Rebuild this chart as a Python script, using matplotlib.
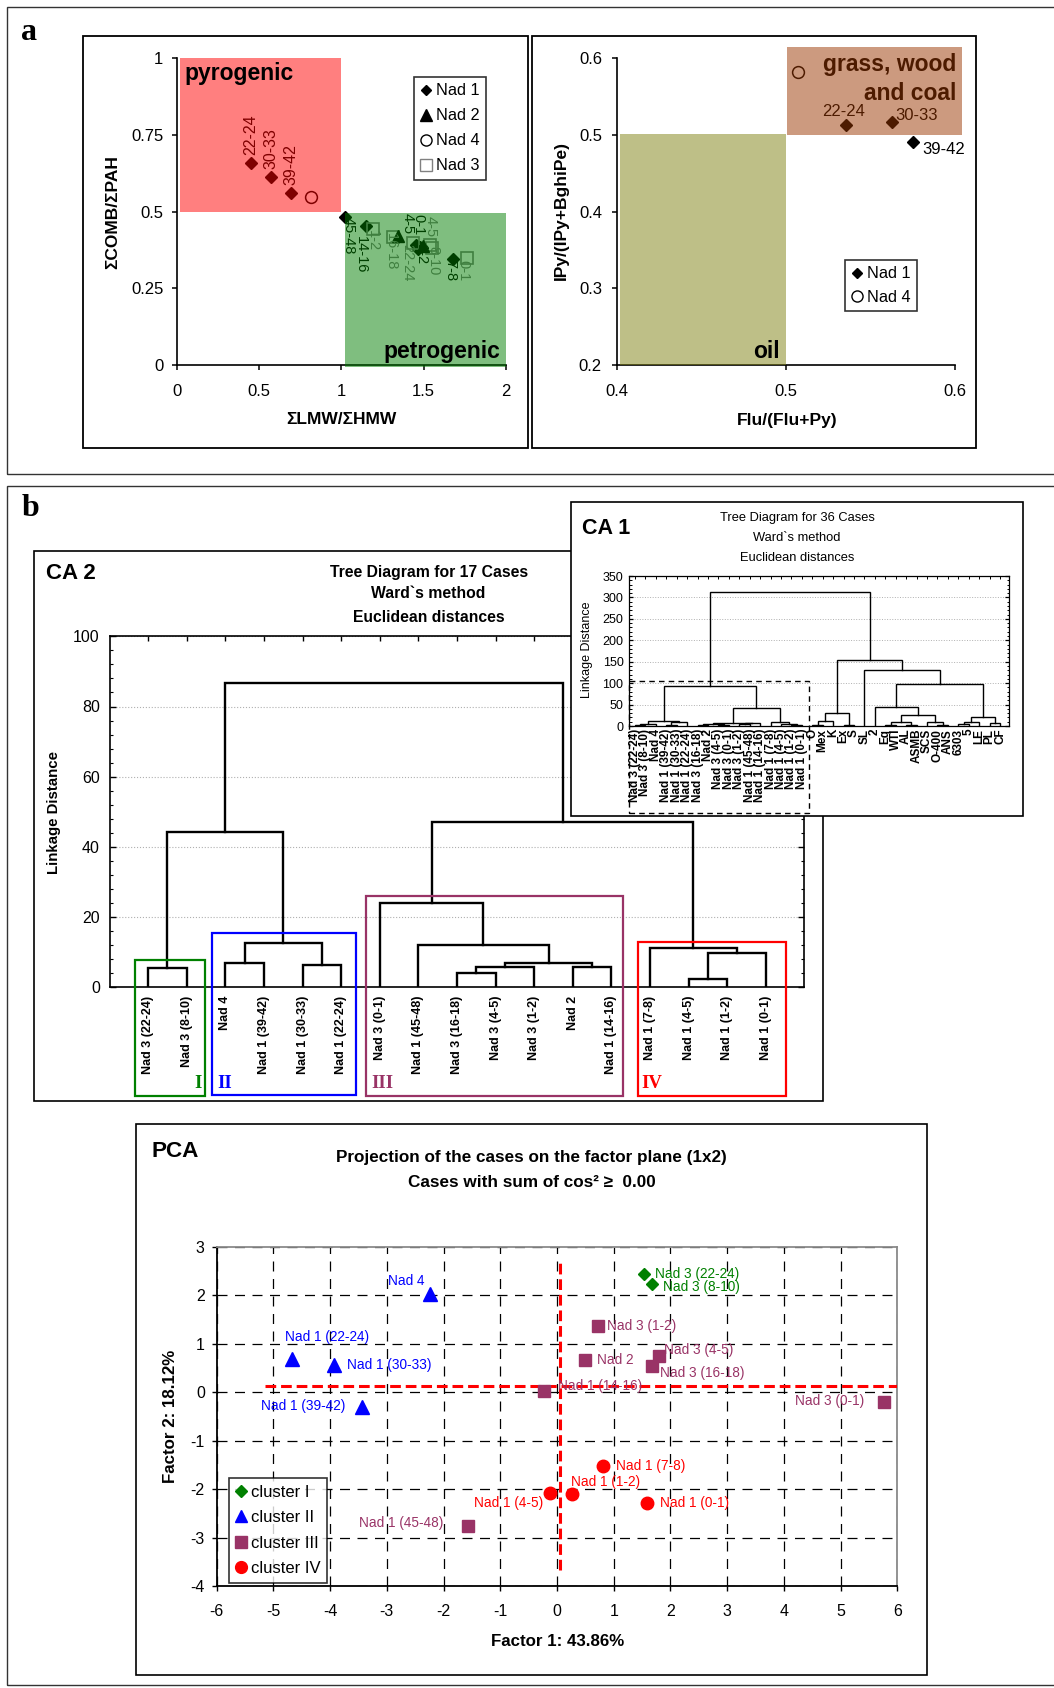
import matplotlib
matplotlib.use('Agg')
import matplotlib.pyplot as plt
from matplotlib.patches import Rectangle
from matplotlib.lines import Line2D
from matplotlib.ticker import MultipleLocator

plt.rcParams['font.family'] = ['Liberation Sans', 'DejaVu Sans']
plt.rcParams['axes.unicode_minus'] = False

# ======================= DATA =======================
# ---- Panel a (left): sum LMW/HMW vs sum COMB/PAH ----
nad1_lbl = ['22-24', '30-33', '39-42', '45-48', '14-16', '4-5', '0-1', '1-2', '7-8']
nad1_lmw = [0.451, 0.573, 0.696, 1.02, 1.15, 1.455, 1.475, 1.465, 1.68]
nad1_comb = [0.660, 0.612, 0.562, 0.484, 0.452, 0.392, 0.385, 0.378, 0.347]
nad2_lmw = [1.346, 1.495]
nad2_comb = [0.421, 0.388]
nad4_lmw = [0.814]
nad4_comb = [0.549]
nad3_lbl = ['1-2', '16-18', '22-24', '4-5', '8-10', '0-1']
nad3_lmw = [1.194, 1.314, 1.437, 1.538, 1.55, 1.761]
nad3_comb = [0.443, 0.417, 0.397, 0.39, 0.38, 0.35]
pyro_x, pyro_y = (0.02, 1.0), (0.5, 1.0)
petro_x, petro_y = (1.02, 2.0), (-0.005, 0.495)

# ---- Panel a (right): Flu/(Flu+Py) vs IPy/(IPy+BghiPe) ----
r_nad1_lbl = ['22-24', '30-33', '39-42']
r_nad1_flu = [0.5354, 0.563, 0.5754]
r_nad1_ipy = [0.5126, 0.5165, 0.4909]
r_nad4_flu = [0.5074]
r_nad4_ipy = [0.5826]
oil_x, oil_y = (0.402, 0.5), (0.2, 0.501)
gwc_x, gwc_y = (0.5005, 0.604), (0.5, 0.615)

# ---- CA 2 dendrogram (17 cases) ----
ca2_leaves = ['Nad 3 (22-24)', 'Nad 3 (8-10)', 'Nad 4', 'Nad 1 (39-42)', 'Nad 1 (30-33)',
              'Nad 1 (22-24)', 'Nad 3 (0-1)', 'Nad 1 (45-48)', 'Nad 3 (16-18)', 'Nad 3 (4-5)',
              'Nad 3 (1-2)', 'Nad 2', 'Nad 1 (14-16)', 'Nad 1 (7-8)', 'Nad 1 (4-5)',
              'Nad 1 (1-2)', 'Nad 1 (0-1)']
# (node a, node b, linkage distance); new nodes numbered from 17
ca2_merges = [(0, 1, 5.6), (2, 3, 6.9), (4, 5, 6.4), (18, 19, 12.5), (17, 20, 44.2),
              (8, 9, 4.0), (22, 10, 5.7), (11, 12, 5.9), (23, 24, 7.0), (7, 25, 12.0),
              (6, 26, 24.1), (14, 15, 2.3), (28, 16, 9.7), (13, 29, 11.1), (27, 30, 47.1),
              (21, 31, 86.6)]

# ---- CA 1 dendrogram (36 cases) ----
ca1_leaves = ['Nad 3 (22-24)', 'Nad 3 (8-10)', 'Nad 4', 'Nad 1 (39-42)', 'Nad 1 (30-33)',
              'Nad 1 (22-24)', 'Nad 3 (16-18)', 'Nad 2', 'Nad 3 (4-5)', 'Nad 3 (0-1)',
              'Nad 3 (1-2)', 'Nad 1 (45-48)', 'Nad 1 (14-16)', 'Nad 1 (7-8)', 'Nad 1 (4-5)',
              'Nad 1 (1-2)', 'Nad 1 (0-1)', 'O', 'Mex', 'K', 'Ex', 'S', 'SL', '2', 'Eq', 'WTI',
              'AL', 'ASMB', 'SCS', 'O-400', 'ANS', '6303', '5', 'LE', 'PL', 'CF']
ca1_merges = [(0, 1, 2.5), (36, 2, 4), (3, 4, 3), (38, 5, 9), (37, 39, 12.4),
              (6, 7, 2), (8, 9, 3), (41, 42, 5), (10, 11, 4), (44, 12, 6), (43, 45, 8),
              (15, 16, 3), (14, 47, 5), (13, 48, 10), (46, 49, 41), (40, 50, 94),
              (17, 18, 2.5), (52, 19, 12), (20, 21, 2.3), (53, 54, 31),
              (24, 25, 2.3), (26, 27, 2), (56, 57, 10), (29, 30, 2), (28, 59, 10),
              (58, 60, 25.7), (23, 61, 45), (31, 32, 4), (63, 33, 10), (34, 35, 8),
              (64, 65, 21.8), (62, 66, 97), (22, 67, 130.7), (55, 68, 154), (51, 69, 313)]

# ---- PCA factor scores ----
c1_names = ['Nad 3 (22-24)', 'Nad 3 (8-10)']
c1_f1 = [1.529, 1.673]
c1_f2 = [2.447, 2.226]
c2_names = ['Nad 4', 'Nad 1 (22-24)', 'Nad 1 (30-33)', 'Nad 1 (39-42)']
c2_f1 = [-2.24, -4.678, -3.931, -3.445]
c2_f2 = [2.027, 0.693, 0.568, -0.316]
c3_names = ['Nad 3 (1-2)', 'Nad 2', 'Nad 3 (4-5)', 'Nad 3 (16-18)', 'Nad 1 (14-16)',
            'Nad 3 (0-1)', 'Nad 1 (45-48)']
c3_f1 = [0.728, 0.486, 1.799, 1.673, -0.225, 5.766, -1.574]
c3_f2 = [1.357, 0.657, 0.738, 0.531, 0.030, -0.206, -2.770]
c4_names = ['Nad 1 (7-8)', 'Nad 1 (1-2)', 'Nad 1 (4-5)', 'Nad 1 (0-1)']
c4_f1 = [0.818, 0.261, -0.126, 1.592]
c4_f2 = [-1.517, -2.107, -2.085, -2.284]
ref_h_f2, ref_h_f1 = 0.126, (-5.15, 6.0)
ref_v_f1, ref_v_f2 = 0.045, (-3.67, 2.68)

# ======================= LAYOUT =======================
W, H = 1054, 1688
PT = 0.72  # points per pixel at dpi 100
fig = plt.figure(figsize=(W / 100, H / 100), dpi=100)
fig.patch.set_facecolor('white')


def ax_px(x0, y0, x1, y1, **kw):
    return fig.add_axes([x0 / W, 1 - y1 / H, (x1 - x0) / W, (y1 - y0) / H], **kw)


def rect_px(x0, y0, x1, y1, **kw):
    r = Rectangle((x0 / W, 1 - y1 / H), (x1 - x0) / W, (y1 - y0) / H,
                  transform=fig.transFigure, **kw)
    fig.add_artist(r)
    return r


def text_px(x, y, s, **kw):
    return fig.text(x / W, 1 - y / H, s, **kw)


def dendro(ax, n_leaves, merges, lw):
    pos = {i: (i + 1, 0.0) for i in range(n_leaves)}
    nid = n_leaves
    for a, b, h in merges:
        xa, ya = pos[a]
        xb, yb = pos[b]
        ax.plot([xa, xa, xb, xb], [ya, h, h, yb], color='k', lw=lw,
                solid_joinstyle='miter', solid_capstyle='projecting', zorder=3)
        pos[nid] = ((xa + xb) / 2, h)
        nid += 1


# outer frames
rect_px(7, 7, 1070, 474, fill=False, ec='#333333', lw=1.0)
rect_px(7, 486, 1070, 1685, fill=False, ec='#333333', lw=1.0)
rect_px(82.7, 36.5, 527.5, 447.8, fill=False, ec='k', lw=1.3)
rect_px(531.6, 36.5, 975.8, 447.8, fill=False, ec='k', lw=1.3)
rect_px(33.6, 550.6, 823, 1101, fill=False, ec='k', lw=1.2)
rect_px(136, 1123.6, 927, 1675, fill=False, ec='k', lw=1.2)
rect_px(571, 501.6, 1023, 816, fc='white', ec='k', lw=1.2, zorder=2)

text_px(28.5, 32, 'a', family='Liberation Serif', fontweight='bold', fontsize=23,
        ha='center', va='center')
text_px(30, 509, 'b', family='Liberation Serif', fontweight='bold', fontsize=23,
        ha='center', va='center')

# ---------------- Panel a left ----------------
axL = ax_px(176.7, 58.3, 506, 365)
axL.set_xlim(0, 2)
axL.set_ylim(0, 1)
for s in ('top', 'right'):
    axL.spines[s].set_visible(False)
for s in ('left', 'bottom'):
    axL.spines[s].set_linewidth(1.2)
axL.set_xticks([0, 0.5, 1, 1.5, 2])
axL.set_xticklabels(['0', '0.5', '1', '1.5', '2'])
axL.set_yticks([0, 0.25, 0.5, 0.75, 1])
axL.set_yticklabels(['0', '0.25', '0.5', '0.75', '1'])
axL.tick_params(direction='out', length=5 * PT, width=1.1, labelsize=12)
axL.tick_params(axis='x', pad=10)
axL.tick_params(axis='y', pad=6)

axL.plot(nad1_lmw, nad1_comb, 'D', color='k', ms=6.3, zorder=2, clip_on=False)
axL.plot(nad3_lmw, nad3_comb, 's', mfc='none', mec='#808080', mew=1.2, ms=9, zorder=2)
axL.plot(nad2_lmw, nad2_comb, '^', color='k', ms=8.5, zorder=2)
axL.plot(nad4_lmw, nad4_comb, 'o', mfc='none', mec='k', mew=1.1, ms=8.5, zorder=2)

green_off = {'45-48': (3.7, 0), '14-16': (-5, -10), '4-5': (-9, 32),
             '0-1': (-1.5, 33), '1-2': (3, 5), '7-8': (-2.6, -1.4)}
for lbl, x, y in zip(nad1_lbl, nad1_lmw, nad1_comb):
    if y > 0.5:
        axL.annotate(lbl, (x, y), xytext=(0, 8 * PT), textcoords='offset points',
                     rotation=90, ha='center', va='bottom', fontsize=11.5, color='k', zorder=2)
    else:
        dx, dy = green_off[lbl]
        axL.annotate(lbl, (x, y), xytext=(dx * PT, dy * PT), textcoords='offset points',
                     rotation=270, ha='center', va='top', fontsize=10.5, color='k', zorder=2)
n3_off = {'1-2': (0, -1), '16-18': (-2.4, 4.5), '22-24': (-6, -1), '4-5': (0.5, 29),
          '8-10': (1, 2), '0-1': (-3, -2)}
for lbl, x, y in zip(nad3_lbl, nad3_lmw, nad3_comb):
    dx, dy = n3_off[lbl]
    axL.annotate(lbl, (x, y), xytext=(dx * PT, dy * PT), textcoords='offset points',
                 rotation=270, ha='center', va='top', fontsize=10.5, color='#808080', zorder=2)

axL.add_patch(Rectangle((pyro_x[0], pyro_y[0]), pyro_x[1] - pyro_x[0], pyro_y[1] - pyro_y[0],
                        fc='#ff0000', alpha=0.5, lw=0, zorder=3, clip_on=False))
axL.add_patch(Rectangle((petro_x[0], petro_y[0]), petro_x[1] - petro_x[0], petro_y[1] - petro_y[0],
                        fc='#007f00', alpha=0.5, lw=0, zorder=3, clip_on=False))
axL.text(0.05, 0.949, 'pyrogenic', fontsize=16.5, fontweight='bold', ha='left', va='center', zorder=5)
axL.text(1.968, 0.023, 'petrogenic', fontsize=16.5, fontweight='bold', ha='right', va='baseline', zorder=5)

hL = [Line2D([], [], ls='none', marker='D', color='k', ms=5.5),
      Line2D([], [], ls='none', marker='^', color='k', ms=8),
      Line2D([], [], ls='none', marker='o', mfc='none', mec='k', ms=8),
      Line2D([], [], ls='none', marker='s', mfc='none', mec='#808080', ms=8)]
legL = fig.legend(hL, ['Nad 1', 'Nad 2', 'Nad 4', 'Nad 3'], loc='upper left',
                  bbox_to_anchor=(414.3 / W, 1 - 76.7 / H), bbox_transform=fig.transFigure,
                  fontsize=11.7, frameon=True, fancybox=False, edgecolor='k', borderpad=0.4,
                  labelspacing=0.62, handlelength=0.7, handletextpad=0.25, borderaxespad=0)
legL.get_frame().set_linewidth(1.2)

text_px(113, 211.7, 'ΣCOMB/ΣPAH', rotation=90, fontsize=12.5, fontweight='bold',
        ha='center', va='center')
text_px(341, 420, 'ΣLMW/ΣHMW', fontsize=12.5, fontweight='bold', ha='center', va='center')

# ---------------- Panel a right ----------------
axR = ax_px(616.7, 58.3, 955, 365)
axR.set_xlim(0.4, 0.6)
axR.set_ylim(0.2, 0.6)
for s in ('top', 'right'):
    axR.spines[s].set_visible(False)
for s in ('left', 'bottom'):
    axR.spines[s].set_linewidth(1.2)
axR.set_xticks([0.4, 0.5, 0.6])
axR.set_xticklabels(['0.4', '0.5', '0.6'])
axR.set_yticks([0.2, 0.3, 0.4, 0.5, 0.6])
axR.set_yticklabels(['0.2', '0.3', '0.4', '0.5', '0.6'])
axR.tick_params(direction='out', length=5 * PT, width=1.1, labelsize=12)
axR.tick_params(axis='x', pad=10)
axR.tick_params(axis='y', pad=7)

axR.plot(r_nad1_flu, r_nad1_ipy, 'D', color='k', ms=6.3, zorder=2, clip_on=False)
axR.plot(r_nad4_flu, r_nad4_ipy, 'o', mfc='none', mec='k', mew=1.1, ms=8.5, zorder=2)
r_off = {'22-24': (-1.7, 14.1), '30-33': (24.4, 7.3), '39-42': (29.8, -7.6)}
for lbl, x, y in zip(r_nad1_lbl, r_nad1_flu, r_nad1_ipy):
    dx, dy = r_off[lbl]
    axR.annotate(lbl, (x, y), xytext=(dx * PT, dy * PT), textcoords='offset points',
                 ha='center', va='center', fontsize=12, color='k', zorder=2)
axR.text(0.6006, 0.592, 'grass, wood', fontsize=16.5, fontweight='bold', ha='right',
         va='center', zorder=2, clip_on=False)
axR.text(0.6006, 0.5543, 'and coal', fontsize=16.5, fontweight='bold', ha='right',
         va='center', zorder=2, clip_on=False)
axR.add_patch(Rectangle((oil_x[0], oil_y[0]), oil_x[1] - oil_x[0], oil_y[1] - oil_y[0],
                        fc='#7e8110', alpha=0.5, lw=0, zorder=3, clip_on=False))
axR.add_patch(Rectangle((gwc_x[0], gwc_y[0]), gwc_x[1] - gwc_x[0], gwc_y[1] - gwc_y[0],
                        fc='#9b3701', alpha=0.5, lw=0, zorder=3, clip_on=False))
axR.text(0.4966, 0.2087, 'oil', fontsize=16.5, fontweight='bold', ha='right', va='baseline', zorder=5)

hR = [Line2D([], [], ls='none', marker='D', color='k', ms=5.5),
      Line2D([], [], ls='none', marker='o', mfc='none', mec='k', ms=8)]
legR = fig.legend(hR, ['Nad 1', 'Nad 4'], loc='upper left',
                  bbox_to_anchor=(845 / W, 1 - 260 / H), bbox_transform=fig.transFigure,
                  fontsize=11.7, frameon=True, fancybox=False, edgecolor='k', borderpad=0.4,
                  labelspacing=0.5, handlelength=0.7, handletextpad=0.25, borderaxespad=0)
legR.get_frame().set_linewidth(1.2)

text_px(561.7, 210.8, 'IPy/(IPy+BghiPe)', rotation=90, fontsize=12.5, fontweight='bold',
        ha='center', va='center')
text_px(786.7, 420, 'Flu/(Flu+Py)', fontsize=12.5, fontweight='bold', ha='center', va='center')

# ---------------- CA 2 ----------------
axC2 = ax_px(109.5, 636.3, 804.4, 987.3)
axC2.set_xlim(0, len(ca2_leaves) + 1)
axC2.set_ylim(0, 100)
for s in axC2.spines.values():
    s.set_linewidth(1.2)
axC2.set_yticks([0, 20, 40, 60, 80, 100])
axC2.yaxis.set_minor_locator(MultipleLocator(4))
axC2.yaxis.grid(True, color='#b0b0b0', ls=':', lw=0.8)
axC2.set_axisbelow(True)
axC2.tick_params(axis='y', which='both', direction='in', left=True, right=True, labelsize=11.5,
                 pad=7)
axC2.tick_params(axis='y', which='major', length=4, width=1)
axC2.tick_params(axis='y', which='minor', length=2.5, width=0.8)
axC2.set_xticks(range(1, len(ca2_leaves) + 1))
axC2.set_xticklabels(ca2_leaves, rotation=90, fontweight='bold', fontsize=9)
axC2.tick_params(axis='x', direction='in', top=True, bottom=False, length=3.5, width=1, pad=6)
dendro(axC2, len(ca2_leaves), ca2_merges, lw=1.7)

text_px(46.5, 574, 'CA 2', fontsize=16, fontweight='bold', ha='left', va='center')
for yy, s in zip((572, 594, 617.5), ('Tree Diagram for 17 Cases', 'Ward`s method',
                                     'Euclidean distances')):
    text_px(428.6, yy, s, fontsize=11.3, fontweight='bold', ha='center', va='center')
text_px(54, 812, 'Linkage Distance', rotation=90, fontsize=10.8, fontweight='bold',
        ha='center', va='center')

# cluster boxes
rect_px(135, 960.4, 204.5, 1095.5, fill=False, ec='#008000', lw=1.6)
rect_px(212.4, 932.5, 355.5, 1094.5, fill=False, ec='#0000ff', lw=1.6)
rect_px(366.3, 896, 623, 1095.5, fill=False, ec='#993366', lw=1.6)
rect_px(637.6, 941.7, 785.8, 1095.5, fill=False, ec='#ff0000', lw=1.6)
for x, s, c, ha in ((198, 'I', '#008000', 'center'), (217.7, 'II', '#0000ff', 'left'),
                    (371, 'III', '#993366', 'left'), (641.7, 'IV', '#ff0000', 'left')):
    text_px(x, 1084, s, family='Liberation Serif', fontweight='bold', fontsize=13.5,
            color=c, ha=ha, va='center')

# ---------------- CA 1 ----------------
axC1 = ax_px(629, 576, 1009.3, 726, zorder=3)
axC1.set_xlim(0.425, 36.89)
axC1.set_ylim(0, 350)
for s in axC1.spines.values():
    s.set_linewidth(0.9)
axC1.set_yticks(range(0, 351, 50))
axC1.yaxis.set_minor_locator(MultipleLocator(10))
axC1.yaxis.grid(True, color='#b0b0b0', ls=':', lw=0.7)
axC1.set_axisbelow(True)
axC1.tick_params(axis='y', which='both', direction='in', left=True, right=True, labelsize=9,
                 pad=4)
axC1.tick_params(axis='y', which='major', length=3, width=0.9)
axC1.tick_params(axis='y', which='minor', length=1.8, width=0.7)
axC1.set_xticks(range(1, len(ca1_leaves) + 1))
axC1.set_xticklabels(ca1_leaves, rotation=90, fontweight='bold', fontsize=8.5)
axC1.tick_params(axis='x', direction='in', top=True, bottom=False, length=2, width=0.7, pad=2)
dendro(axC1, len(ca1_leaves), ca1_merges, lw=1.0)

text_px(581.7, 528, 'CA 1', fontsize=15.5, fontweight='bold', ha='left', va='center', zorder=4)
for yy, s in zip((518.3, 537.7, 557.7), ('Tree Diagram for 36 Cases', 'Ward`s method',
                                         'Euclidean distances')):
    text_px(797, yy, s, fontsize=9.3, ha='center', va='center', zorder=4)
text_px(587, 650, 'Linkage Distance', rotation=90, fontsize=9, ha='center', va='center', zorder=4)
rect_px(629.3, 680.7, 809.3, 813.3, fill=False, ec='k', lw=1.0, ls=(0, (4, 3)), zorder=4)

# ---------------- PCA ----------------
axP = ax_px(216.7, 1246.8, 897.3, 1586)
axP.set_xlim(-6, 6)
axP.set_ylim(-4, 3)
axP.set_xticks(range(-6, 7))
axP.set_yticks(range(-4, 4))
axP.grid(True, color='k', lw=0.9, ls=(0, (8, 6)))
axP.set_axisbelow(True)
for s in ('left', 'bottom'):
    axP.spines[s].set_linewidth(1.3)
    axP.spines[s].set_color('k')
for s in ('top', 'right'):
    axP.spines[s].set_linewidth(1.3)
    axP.spines[s].set_color('#8a8a8a')
axP.tick_params(direction='out', length=5 * PT, width=1, labelsize=11.5)
axP.tick_params(axis='x', pad=9)
axP.tick_params(axis='y', pad=5)

axP.plot(list(ref_h_f1), [ref_h_f2, ref_h_f2], color='#ff0000', lw=2.2, ls=(0, (3.5, 1.6)), zorder=3)
axP.plot([ref_v_f1, ref_v_f1], list(ref_v_f2), color='#ff0000', lw=2.2, ls=(0, (3.5, 1.6)), zorder=3)

pca_col = {'I': '#008000', 'II': '#0000ff', 'III': '#993366', 'IV': '#ff0000'}
axP.plot(c1_f1, c1_f2, 'D', color=pca_col['I'], ms=6.3, zorder=4)
axP.plot(c2_f1, c2_f2, '^', color=pca_col['II'], ms=9.5, zorder=4)
axP.plot(c3_f1, c3_f2, 's', color=pca_col['III'], ms=8.6, zorder=4)
axP.plot(c4_f1, c4_f2, 'o', color=pca_col['IV'], ms=9, zorder=4)

p_off = {'Nad 3 (22-24)': (11.7, 0, 'left'), 'Nad 3 (8-10)': (11.2, -2.9, 'left'),
         'Nad 4': (-42.4, 13.2, 'left'), 'Nad 1 (22-24)': (-7.1, 21.5, 'left'),
         'Nad 1 (30-33)': (12.8, 0, 'left'), 'Nad 1 (39-42)': (-15.8, 1.8, 'right'),
         'Nad 3 (1-2)': (8.7, 0, 'left'), 'Nad 2': (12.2, 0, 'left'),
         'Nad 3 (4-5)': (5.1, 6.1, 'left'), 'Nad 3 (16-18)': (7.7, -6.1, 'left'),
         'Nad 1 (14-16)': (13.3, 5, 'left'), 'Nad 3 (0-1)': (-19.4, 0.7, 'right'),
         'Nad 1 (45-48)': (-24, 2.9, 'right'), 'Nad 1 (7-8)': (12.3, -0.7, 'left'),
         'Nad 1 (1-2)': (-0.5, 11.8, 'left'), 'Nad 1 (4-5)': (-6.6, -9.6, 'right'),
         'Nad 1 (0-1)': (12.3, 0, 'left')}
for names, xs, ys, key in ((c1_names, c1_f1, c1_f2, 'I'), (c2_names, c2_f1, c2_f2, 'II'),
                           (c3_names, c3_f1, c3_f2, 'III'), (c4_names, c4_f1, c4_f2, 'IV')):
    for nm, x, y in zip(names, xs, ys):
        dx, dy, ha = p_off[nm]
        axP.annotate(nm, (x, y), xytext=(dx * PT, dy * PT), textcoords='offset points',
                     ha=ha, va='center', fontsize=9.8, color=pca_col[key], zorder=5)

hP = [Line2D([], [], ls='none', marker='D', color=pca_col['I'], ms=6),
      Line2D([], [], ls='none', marker='^', color=pca_col['II'], ms=8.5),
      Line2D([], [], ls='none', marker='s', color=pca_col['III'], ms=8),
      Line2D([], [], ls='none', marker='o', color=pca_col['IV'], ms=8.5)]
legP = fig.legend(hP, ['cluster I', 'cluster II', 'cluster III', 'cluster IV'], loc='upper left',
                  bbox_to_anchor=(228.5 / W, 1 - 1478.2 / H), bbox_transform=fig.transFigure,
                  fontsize=12, frameon=True, fancybox=False, edgecolor='k', borderpad=0.4,
                  labelspacing=0.62, handlelength=0.7, handletextpad=0.25, borderaxespad=0)
legP.get_frame().set_linewidth(1.2)

text_px(151.4, 1151.4, 'PCA', fontsize=16.2, fontweight='bold', ha='left', va='center')
text_px(531.8, 1157.5, 'Projection of the cases on the factor plane (1x2)', fontsize=12.3,
        fontweight='bold', ha='center', va='center')
text_px(531.8, 1182.5, 'Cases with sum of cos² ≥  0.00', fontsize=12.3,
        fontweight='bold', ha='center', va='center')
text_px(557.6, 1641, 'Factor 1: 43.86%', fontsize=12.2, fontweight='bold', ha='center', va='center')
text_px(170.8, 1416, 'Factor 2: 18.12%', rotation=90, fontsize=12.2, fontweight='bold',
        ha='center', va='center')

fig.savefig('out.png', dpi=100, facecolor='white')
